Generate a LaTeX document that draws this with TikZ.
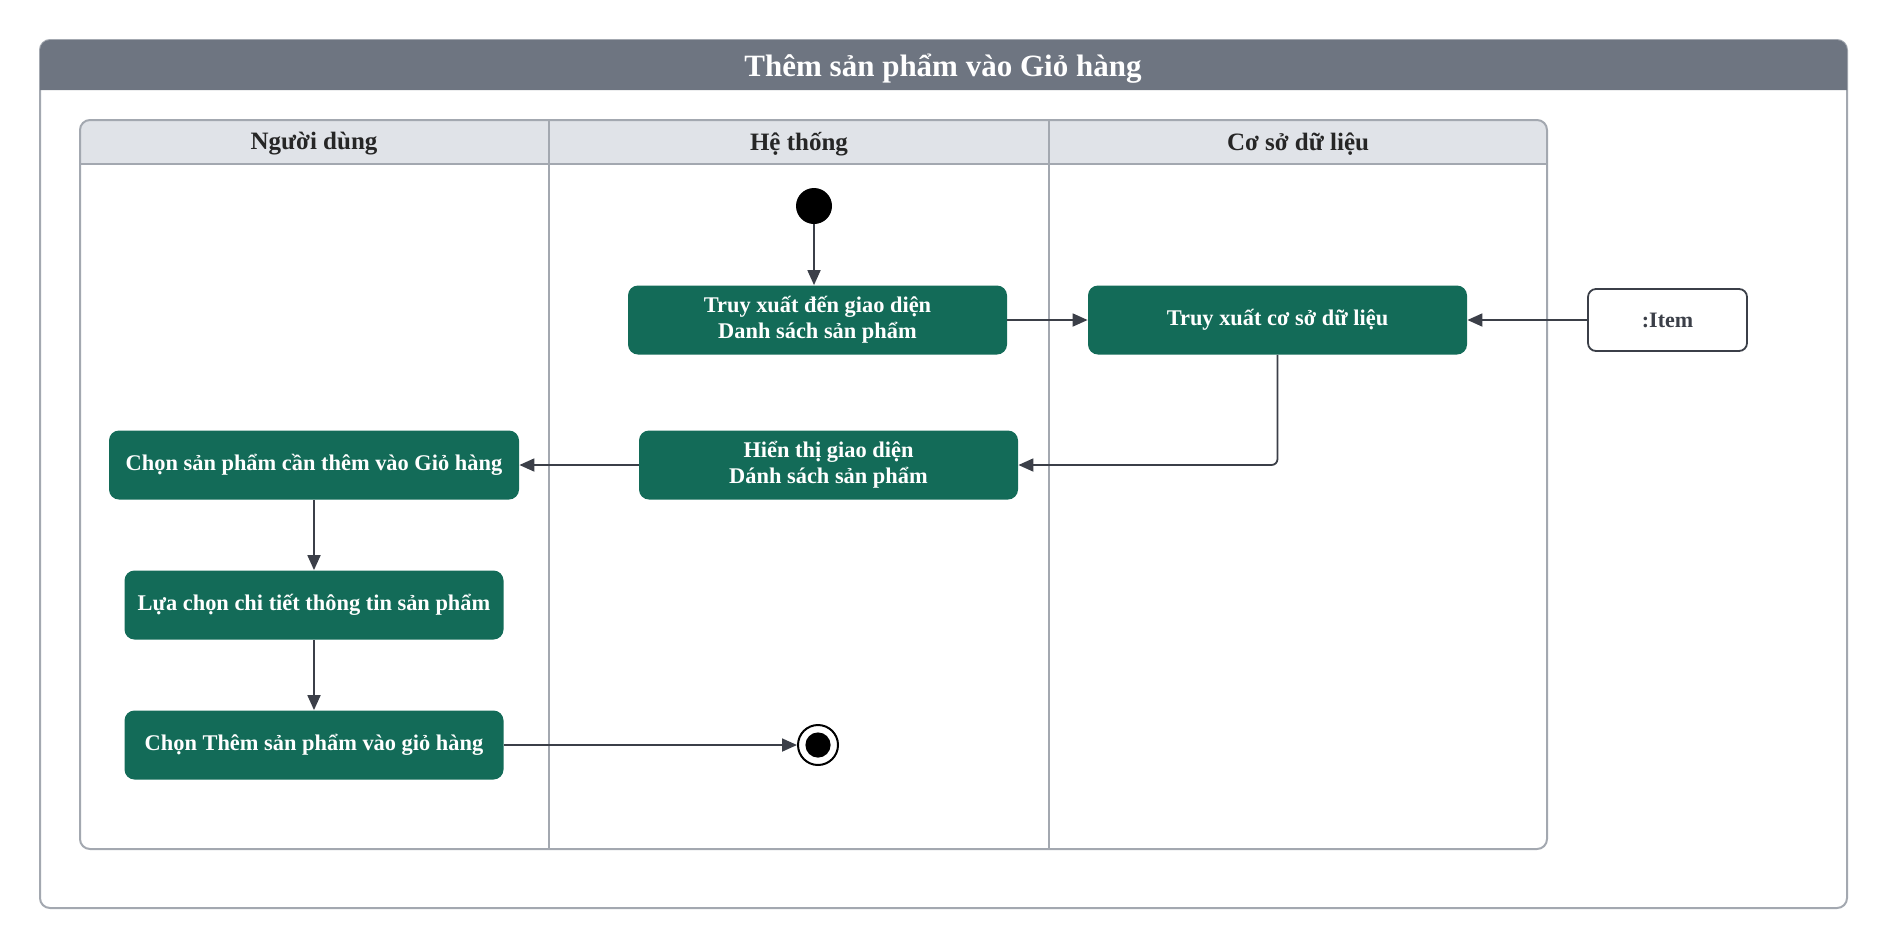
\documentclass[tikz,border=0pt]{standalone}
\usepackage{fontspec}
\setmainfont{Liberation Serif}
\usetikzlibrary{arrows.meta}

\definecolor{titlegray}{HTML}{6E7581}
\definecolor{lanegray}{HTML}{E0E3E8}
\definecolor{framegray}{HTML}{A3A8B0}
\definecolor{actgreen}{HTML}{136B58}
\definecolor{flowgray}{HTML}{3B3F48}

\tikzset{
  action/.style={rectangle, rounded corners=5pt, fill=actgreen, text=white,
    font=\bfseries\fontsize{11.2}{13}\selectfont, align=center,
    minimum width=189.5pt, minimum height=34.5pt, inner sep=0pt},
  objbox/.style={rectangle, rounded corners=4pt, draw=flowgray, line width=0.9pt,
    fill=white, text=flowgray, font=\bfseries\fontsize{11}{13}\selectfont,
    minimum width=79.5pt, minimum height=31pt},
  lanelabel/.style={text=black!85, font=\bfseries\fontsize{12.5}{15}\selectfont},
  flow/.style={draw=flowgray, line width=0.9pt, -{Triangle[length=7.5pt,width=6.5pt]}},
}

\begin{document}
\begin{tikzpicture}[x=0.5pt,y=-0.5pt]
    \useasboundingbox (0,0) rectangle (1889,949);

    % frame
    \draw[framegray, line width=1pt, rounded corners=5pt] (40,40) rectangle (1847,908);
    \fill[titlegray] (40,90) {[rounded corners=5pt] -- (40,40) -- (1847,40)} -- (1847,90) -- cycle;
    \node[text=white, font=\bfseries\fontsize{15.5}{18}\selectfont] (title) at (943,69) {Thêm sản phẩm vào Giỏ hàng};

    % lanes
    \fill[lanegray] (80,164) {[rounded corners=5pt] -- (80,120) -- (1547,120)} -- (1547,164) -- cycle;
    \draw[framegray, line width=1pt, rounded corners=5pt] (80,120) rectangle (1547,849);
    \draw[framegray, line width=1pt] (80,164) -- (1547,164);
    \draw[framegray, line width=1pt] (549,120) -- (549,849);
    \draw[framegray, line width=1pt] (1049,120) -- (1049,849);
    \node[lanelabel] (user) at (314,144) {Người dùng};
    \node[lanelabel] (system) at (799,144) {Hệ thống};
    \node[lanelabel] (db) at (1298,144) {Cơ sở dữ liệu};

    % start and end
    \node[circle, fill=black, minimum size=18pt, inner sep=0pt] (start) at (814,206) {};
    \node[circle, draw=black, line width=1pt, fill=white, minimum size=20pt, inner sep=0pt] (end) at (818,745) {};
    \fill[black] (end) circle (6.3pt);

    % actions
    \node[action] (fetchui) at (817.5,320) {Truy xuất đến giao diện\\Danh sách sản phẩm};
    \node[action] (fetchdb) at (1277.5,320) {Truy xuất cơ sở dữ liệu};
    \node[objbox] (item) at (1667.5,320) {:Item};
    \node[action] (showui) at (828.5,465) {Hiển thị giao diện\\Dánh sách sản phẩm};
    \node[action, minimum width=205pt] (pick) at (314,465) {Chọn sản phẩm cần thêm vào Giỏ hàng};
    \node[action] (detail) at (314,605) {Lựa chọn chi tiết thông tin sản phẩm};
    \node[action] (addcart) at (314,745) {Chọn Thêm sản phẩm vào giỏ hàng};

    % flows
    \draw[flow] (start) -- (start |- fetchui.north);
    \draw[flow] (fetchui) -- (fetchdb);
    \draw[flow] (item) -- (fetchdb);
    \draw[flow, rounded corners=3pt] (fetchdb.south) -- (fetchdb.south |- showui.east) -- (showui.east);
    \draw[flow] (showui) -- (pick);
    \draw[flow] (pick) -- (detail);
    \draw[flow] (detail) -- (addcart);
    \draw[flow] (addcart) -- (end);
\end{tikzpicture}
\end{document}
